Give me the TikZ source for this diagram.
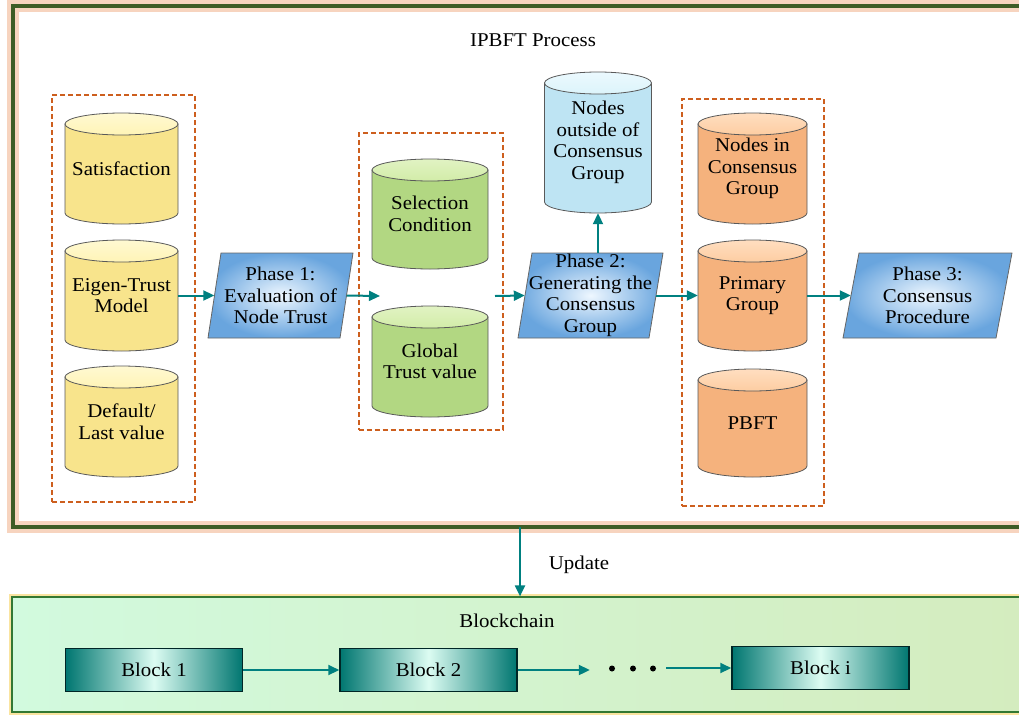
\documentclass[tikz,border=0pt]{standalone}
\usepackage{fontspec}
\setmainfont{Liberation Serif}[FakeStretch=1.07]
\usetikzlibrary{shapes.geometric,arrows.meta}
\definecolor{Frm}{RGB}{62,92,38}
\definecolor{GlowO}{RGB}{245,195,165}
\definecolor{GlowY}{RGB}{250,228,160}
\definecolor{DashO}{RGB}{205,95,30}
\definecolor{Tl}{RGB}{0,128,128}
\definecolor{TlD}{RGB}{0,118,112}
\definecolor{TlL}{RGB}{220,252,242}
\definecolor{YlD}{RGB}{248,228,140}
\definecolor{YlM}{RGB}{255,244,182}
\definecolor{YlL}{RGB}{255,249,210}
\definecolor{GrD}{RGB}{178,215,130}
\definecolor{GrM}{RGB}{210,236,168}
\definecolor{GrL}{RGB}{225,243,195}
\definecolor{BlD}{RGB}{190,228,243}
\definecolor{BlM}{RGB}{220,244,251}
\definecolor{BlL}{RGB}{235,249,254}
\definecolor{OrD}{RGB}{245,178,125}
\definecolor{OrM}{RGB}{253,205,162}
\definecolor{OrL}{RGB}{255,222,192}
\definecolor{PhIn}{RGB}{238,247,255}
\definecolor{PhOut}{RGB}{105,165,222}
\definecolor{BcL}{RGB}{210,250,222}
\definecolor{BcR}{RGB}{212,236,190}
\newcommand{\mycyl}[9]{% name, cx, ty, by, half width, dark, mid, light, text
  \path[draw=black!65, line width=0.8pt, left color=#6, middle color=#7, right color=#6]
    (#2-#5,#3) -- (#2-#5,#4) arc[start angle=180,end angle=360,x radius=#5pt,y radius=11pt] -- (#2+#5,#3) -- cycle;
  \path[draw=black!65, line width=0.8pt, top color=#8, bottom color=#7] (#2,#3) ellipse[x radius=#5pt,y radius=11pt];
  \node[cyltxt, minimum width=2*#5pt, minimum height=#4pt-#3pt] (#1) at (#2,{(#3+#4)/2}) {#9};
}
\newcommand{\mypar}[7]{% name, cx, cy, half width, half height, slant, text
  \path[draw=black!60, line width=0.8pt, inner color=PhIn, outer color=PhOut]
    (#2-#4,#3+#5) -- (#2-#4+#6,#3-#5) -- (#2+#4,#3-#5) -- (#2+#4-#6,#3+#5) -- cycle;
  \node[phtxt, minimum width=2*#4pt-#6pt, minimum height=2*#5pt] (#1) at (#2,#3) {#7};
}
\begin{document}
\begin{tikzpicture}[x=1pt,y=-1pt,
  font=\fontsize{19.5}{21.5}\selectfont,
  cyltxt/.style={rectangle, inner sep=0pt, align=center},
  dbox/.style={draw=DashO, line width=2pt, dash pattern=on 5pt off 3pt, inner sep=0pt},
  phtxt/.style={rectangle, align=center, inner sep=0pt},
  conn/.style={draw=Tl, line width=2pt, -{Triangle[length=11pt,width=10pt]}},
  blk/.style={rectangle, draw=black!70!Tl, line width=1.5pt, minimum width=177pt, minimum height=43pt,
    left color=TlD, right color=TlD, middle color=TlL, inner sep=0pt}]
\clip (0,0) rectangle (1019,715);
\useasboundingbox (0,0) rectangle (1019,715);
\fill[white] (0,0) rectangle (1019,715);

% outer frame
\node[fill=white, minimum width=1018.5pt, minimum height=520.5pt, inner sep=0pt] (frame) at (522.75,266.75) {};
\draw[GlowO, line width=12pt, opacity=0.7] (frame.north west) rectangle (frame.south east);
\draw[Frm, line width=4pt] (frame.north west) rectangle (frame.south east);
\node (title) at (533,40) {IPBFT Process};

% dashed group boxes
\node[dbox, minimum width=143pt, minimum height=407pt] (box1) at (123.5,298.5) {};
\node[dbox, minimum width=144pt, minimum height=297pt] (box2) at (430.5,281.5) {};
\node[dbox, minimum width=142pt, minimum height=407pt] (box3) at (753,302.5) {};

% yellow cylinders
\mycyl{sat}{121.5}{124}{213}{56.5}{YlD}{YlM}{YlL}{Satisfaction}
\mycyl{eig}{121.5}{251}{340}{56.5}{YlD}{YlM}{YlL}{Eigen-Trust\\Model}
\mycyl{def}{121.5}{377}{466}{56.5}{YlD}{YlM}{YlL}{Default/\\Last value}
% green cylinders
\mycyl{sel}{430}{170}{258}{58}{GrD}{GrM}{GrL}{Selection\\Condition}
\mycyl{glo}{430}{317}{406}{58}{GrD}{GrM}{GrL}{Global\\Trust value}
% light blue cylinder
\mycyl{out}{598}{83}{202}{53.5}{BlD}{BlM}{BlL}{Nodes\\outside of\\Consensus\\Group}
% orange cylinders
\mycyl{nin}{752.5}{124}{213}{54.5}{OrD}{OrM}{OrL}{Nodes in\\Consensus\\Group}
\mycyl{pri}{752.5}{251}{340}{54.5}{OrD}{OrM}{OrL}{Primary\\Group}
\mycyl{pbf}{752.5}{380}{466}{54.5}{OrD}{OrM}{OrL}{PBFT}

% phases
\mypar{ph1}{280.5}{295.5}{72.5}{42.5}{13}{Phase 1:\\Evaluation of\\Node Trust}
\mypar{ph2}{590.5}{295.5}{72.5}{42.5}{14}{Phase 2:\\Generating the\\Consensus\\Group}
\mypar{ph3}{927.5}{295.5}{84.5}{42.5}{16}{Phase 3:\\Consensus\\Procedure}

\coordinate (gin) at (380,296);
\coordinate (gout) at (495,296);
\draw[conn] (eig.east) -- (ph1.west);
\draw[conn] (ph1.east) -- (gin);
\draw[conn] (gout) -- (ph2.west);
\draw[conn] (ph2.north -| out.south) -- ([yshift=-11pt]out.south);
\draw[conn] (ph2.east) -- (pri.west);
\draw[conn] (pri.east) -- (ph3.west);

% blockchain
\draw[GlowY, line width=6pt] (12,597) rectangle (1040,712);
\node[draw=black!55!green!60!gray, line width=1.2pt, left color=BcL, right color=BcR,
  minimum width=1028pt, minimum height=115pt, inner sep=0pt] (bc) at (526,654.5) {};
\node (bctitle) at (507,621) {Blockchain};

\coordinate (u) at (520,560);
\draw[conn] (frame.south -| u) -- (bc.north -| u);
\node (upd) at (579,565) {Update};

\node[blk] (b1) at (154,670) {Block 1};
\node[blk] (b2) at (428.5,670) {Block 2};
\node[blk] (bi) at (820.5,668) {Block i};
\node[minimum width=76pt, minimum height=10pt, inner sep=0pt] (dots) at (628,668) {};
\foreach \xx in {612,633,653} \fill[black] (\xx,668.5) circle (3pt);
\draw[conn] (b1.east) -- (b2.west);
\draw[conn] (b2.east) -- (b2.east -| dots.west);
\draw[conn] (dots.east |- bi.west) -- (bi.west);
\end{tikzpicture}
\end{document}
